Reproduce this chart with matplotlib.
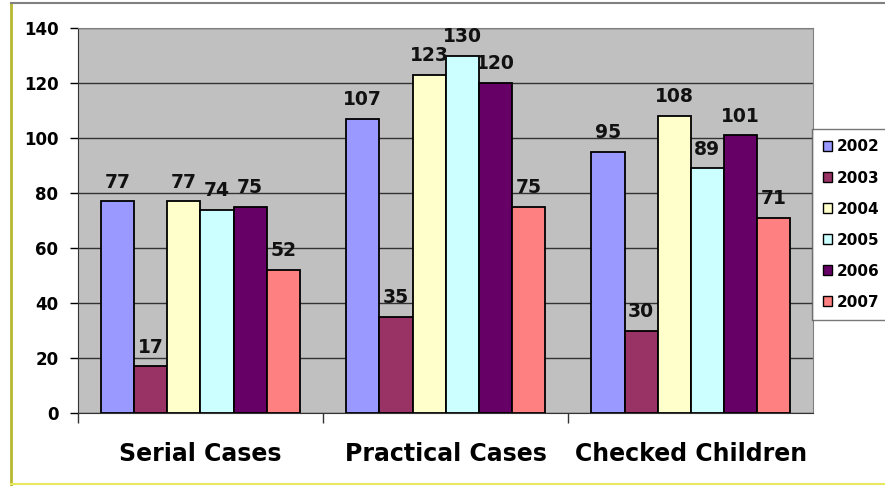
import numpy as np
import matplotlib.pyplot as plt
from matplotlib.lines import Line2D

categories = ['Serial Cases', 'Practical Cases', 'Checked Children']
years = ['2002', '2003', '2004', '2005', '2006', '2007']
values = {
    '2002': [77, 107, 95],
    '2003': [17, 35, 30],
    '2004': [77, 123, 108],
    '2005': [74, 130, 89],
    '2006': [75, 120, 101],
    '2007': [52, 75, 71],
}
colors = ['#9999FF', '#993366', '#FFFFCC', '#CCFFFF', '#660066', '#FF8080']

plt.rcParams['font.family'] = ['DejaVu Sans']
plt.rcParams['font.weight'] = 'bold'

fig = plt.figure(figsize=(8.85, 4.86), dpi=100)
ax = fig.add_axes([0.088, 0.150, 0.831, 0.792])
ax.set_facecolor('#C0C0C0')

x = np.arange(len(categories))
width = 0.135
for i, (yr, c) in enumerate(zip(years, colors)):
    pos = x + (i - 2.5) * width
    bars = ax.bar(pos, values[yr], width, color=c, edgecolor='black',
                  linewidth=1.3, label=yr, zorder=3)
    for b, v in zip(bars, values[yr]):
        ax.annotate(str(v), (b.get_x() + b.get_width() / 2, v),
                    xytext=(0, 7), textcoords='offset points',
                    ha='center', va='bottom', fontsize=13.5,
                    fontweight='bold', color='#111111', zorder=4)

ax.set_xlim(-0.5, 2.5)
ax.set_ylim(0, 140)
ax.set_yticks(range(0, 141, 20))
ax.yaxis.grid(True, color='#333333', linewidth=1.0, zorder=0)
ax.tick_params(axis='y', labelsize=12, length=6, width=1, pad=8)
ax.set_xticks(x)
ax.set_xticklabels(categories, fontsize=17, fontweight='bold')
ax.tick_params(axis='x', length=0, pad=21)
# tick marks between the category groups
ax.set_xticks([-0.5, 0.5, 1.5], minor=True)
ax.tick_params(axis='x', which='minor', length=7, width=1, color='#333333')

for side in ['top', 'right']:
    ax.spines[side].set_color('#808080')
ax.spines['left'].set_color('#333333')
ax.spines['bottom'].set_color('#333333')

handles = [plt.Rectangle((0, 0), 1, 1, facecolor=c, edgecolor='black', linewidth=1)
           for c in colors]
leg = fig.legend(handles, years, loc='upper left',
                 bbox_to_anchor=(0.918, 0.735), fontsize=11,
                 frameon=True, fancybox=False, edgecolor='#555555',
                 handlelength=0.6, handleheight=0.6, handletextpad=0.3,
                 labelspacing=1.05, borderpad=0.7, borderaxespad=0)
leg.get_frame().set_linewidth(1)

# outer frame lines of the chart area
fig.add_artist(Line2D([0.012, 0.012], [0.0, 0.993], color='#B8B830', linewidth=2))
fig.add_artist(Line2D([0.012, 1.0], [0.993, 0.993], color='#808080', linewidth=1.5))
fig.add_artist(Line2D([0.012, 1.0], [0.004, 0.004], color='#E8E860', linewidth=1.5))

fig.savefig('out.png', dpi=100)
